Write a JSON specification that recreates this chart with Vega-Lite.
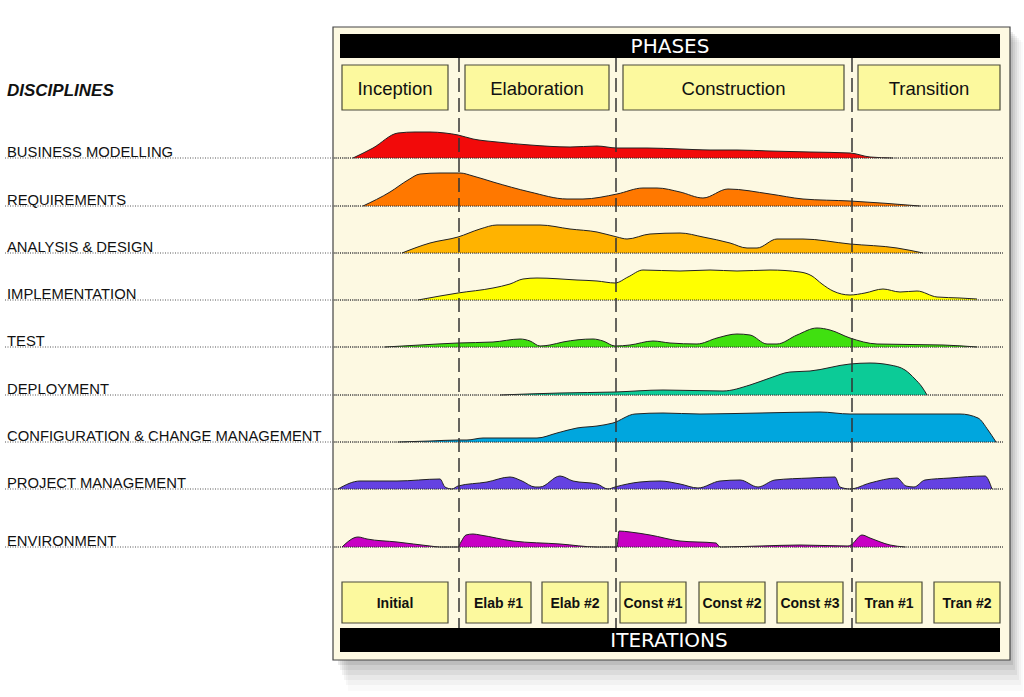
{
  "$schema": "https://vega.github.io/schema/vega-lite/v6.json",
  "width": 1024,
  "height": 697,
  "padding": 0,
  "autosize": {"type": "fit", "contains": "padding"},
  "background": "#ffffff",
  "config": {"view": {"stroke": null}, "axis": {"disable": true}, "text": {"font": "Liberation Sans"}},
  "data": {"values": [{}]},
  "datasets": {
    "disc": [
      {"k": "BM", "label": "BUSINESS MODELLING", "base": 158},
      {"k": "RQ", "label": "REQUIREMENTS", "base": 206},
      {"k": "AD", "label": "ANALYSIS & DESIGN", "base": 253},
      {"k": "IM", "label": "IMPLEMENTATION", "base": 300},
      {"k": "TE", "label": "TEST", "base": 347},
      {"k": "DP", "label": "DEPLOYMENT", "base": 395},
      {"k": "CM", "label": "CONFIGURATION & CHANGE MANAGEMENT", "base": 442},
      {"k": "PM", "label": "PROJECT MANAGEMENT", "base": 489},
      {"k": "EN", "label": "ENVIRONMENT", "base": 547}
    ],
    "phases": [
      {"name": "Inception", "start": 342, "end": 448},
      {"name": "Elaboration", "start": 465, "end": 609},
      {"name": "Construction", "start": 623, "end": 844},
      {"name": "Transition", "start": 858, "end": 1000}
    ],
    "iters": [
      {"name": "Initial", "start": 342, "end": 448},
      {"name": "Elab #1", "start": 466, "end": 531},
      {"name": "Elab #2", "start": 542, "end": 608},
      {"name": "Const #1", "start": 620, "end": 686},
      {"name": "Const #2", "start": 699, "end": 765},
      {"name": "Const #3", "start": 777, "end": 843},
      {"name": "Tran #1", "start": 856, "end": 922},
      {"name": "Tran #2", "start": 934, "end": 1000}
    ],
    "divs": [{"x": 459}, {"x": 616}, {"x": 852}],
    "humps": [
      {"k":"BM","x":353,"y":158},{"k":"BM","x":373,"y":148},{"k":"BM","x":398,"y":133},{"k":"BM","x":415,"y":132},{"k":"BM","x":430,"y":132},{"k":"BM","x":445,"y":133},{"k":"BM","x":458,"y":135},{"k":"BM","x":473,"y":139},{"k":"BM","x":497,"y":142},{"k":"BM","x":530,"y":145},{"k":"BM","x":570,"y":147},{"k":"BM","x":597,"y":146},{"k":"BM","x":617,"y":148},{"k":"BM","x":647,"y":148},{"k":"BM","x":680,"y":149},{"k":"BM","x":710,"y":150},{"k":"BM","x":737,"y":150},{"k":"BM","x":770,"y":151},{"k":"BM","x":810,"y":152},{"k":"BM","x":850,"y":153},{"k":"BM","x":870,"y":157},{"k":"BM","x":893,"y":158},
      {"k":"RQ","x":363,"y":206},{"k":"RQ","x":390,"y":192},{"k":"RQ","x":408,"y":180},{"k":"RQ","x":420,"y":174},{"k":"RQ","x":440,"y":173},{"k":"RQ","x":460,"y":173},{"k":"RQ","x":473,"y":176},{"k":"RQ","x":493,"y":182},{"k":"RQ","x":530,"y":192},{"k":"RQ","x":567,"y":199},{"k":"RQ","x":583,"y":199},{"k":"RQ","x":617,"y":194},{"k":"RQ","x":643,"y":188},{"k":"RQ","x":657,"y":188},{"k":"RQ","x":680,"y":192},{"k":"RQ","x":703,"y":198},{"k":"RQ","x":728,"y":189},{"k":"RQ","x":770,"y":194},{"k":"RQ","x":803,"y":199},{"k":"RQ","x":850,"y":201},{"k":"RQ","x":920,"y":206},
      {"k":"AD","x":402,"y":253},{"k":"AD","x":430,"y":243},{"k":"AD","x":458,"y":237},{"k":"AD","x":480,"y":229},{"k":"AD","x":497,"y":225},{"k":"AD","x":540,"y":225},{"k":"AD","x":570,"y":229},{"k":"AD","x":597,"y":232},{"k":"AD","x":617,"y":237},{"k":"AD","x":627,"y":239},{"k":"AD","x":650,"y":234},{"k":"AD","x":680,"y":233},{"k":"AD","x":703,"y":237},{"k":"AD","x":730,"y":243},{"k":"AD","x":747,"y":248},{"k":"AD","x":757,"y":248},{"k":"AD","x":777,"y":239},{"k":"AD","x":803,"y":239},{"k":"AD","x":850,"y":244},{"k":"AD","x":897,"y":248},{"k":"AD","x":923,"y":253},
      {"k":"IM","x":418,"y":300},{"k":"IM","x":440,"y":296},{"k":"IM","x":458,"y":293},{"k":"IM","x":493,"y":288},{"k":"IM","x":510,"y":284},{"k":"IM","x":523,"y":279},{"k":"IM","x":537,"y":278},{"k":"IM","x":577,"y":280},{"k":"IM","x":597,"y":281},{"k":"IM","x":615,"y":283},{"k":"IM","x":628,"y":277},{"k":"IM","x":643,"y":270},{"k":"IM","x":680,"y":271},{"k":"IM","x":710,"y":270},{"k":"IM","x":737,"y":271},{"k":"IM","x":770,"y":270},{"k":"IM","x":800,"y":272},{"k":"IM","x":812,"y":276},{"k":"IM","x":822,"y":284},{"k":"IM","x":833,"y":291},{"k":"IM","x":850,"y":295},{"k":"IM","x":865,"y":293},{"k":"IM","x":883,"y":289},{"k":"IM","x":900,"y":292},{"k":"IM","x":917,"y":291},{"k":"IM","x":937,"y":297},{"k":"IM","x":960,"y":298},{"k":"IM","x":977,"y":299},
      {"k":"TE","x":385,"y":347},{"k":"TE","x":420,"y":345},{"k":"TE","x":458,"y":343},{"k":"TE","x":493,"y":342},{"k":"TE","x":520,"y":339},{"k":"TE","x":530,"y":341},{"k":"TE","x":540,"y":346},{"k":"TE","x":550,"y":345},{"k":"TE","x":563,"y":342},{"k":"TE","x":593,"y":339},{"k":"TE","x":603,"y":341},{"k":"TE","x":615,"y":346},{"k":"TE","x":630,"y":345},{"k":"TE","x":653,"y":341},{"k":"TE","x":670,"y":343},{"k":"TE","x":697,"y":344},{"k":"TE","x":717,"y":338},{"k":"TE","x":737,"y":334},{"k":"TE","x":750,"y":335},{"k":"TE","x":767,"y":344},{"k":"TE","x":777,"y":344},{"k":"TE","x":797,"y":335},{"k":"TE","x":817,"y":328},{"k":"TE","x":830,"y":330},{"k":"TE","x":850,"y":338},{"k":"TE","x":877,"y":344},{"k":"TE","x":943,"y":345},{"k":"TE","x":977,"y":347},
      {"k":"DP","x":500,"y":395},{"k":"DP","x":560,"y":393},{"k":"DP","x":615,"y":392},{"k":"DP","x":663,"y":390},{"k":"DP","x":723,"y":391},{"k":"DP","x":750,"y":385},{"k":"DP","x":770,"y":378},{"k":"DP","x":790,"y":372},{"k":"DP","x":810,"y":371},{"k":"DP","x":850,"y":364},{"k":"DP","x":870,"y":363},{"k":"DP","x":890,"y":365},{"k":"DP","x":905,"y":370},{"k":"DP","x":915,"y":379},{"k":"DP","x":922,"y":387},{"k":"DP","x":927,"y":395},
      {"k":"CM","x":398,"y":442},{"k":"CM","x":430,"y":441},{"k":"CM","x":458,"y":440},{"k":"CM","x":467,"y":440},{"k":"CM","x":483,"y":438},{"k":"CM","x":537,"y":438},{"k":"CM","x":557,"y":433},{"k":"CM","x":577,"y":428},{"k":"CM","x":597,"y":426},{"k":"CM","x":613,"y":423},{"k":"CM","x":635,"y":414},{"k":"CM","x":663,"y":413},{"k":"CM","x":700,"y":414},{"k":"CM","x":760,"y":413},{"k":"CM","x":820,"y":412},{"k":"CM","x":850,"y":414},{"k":"CM","x":900,"y":414},{"k":"CM","x":960,"y":414},{"k":"CM","x":978,"y":418},{"k":"CM","x":988,"y":430},{"k":"CM","x":996,"y":442},
      {"k":"PM","x":338,"y":489},{"k":"PM","x":360,"y":481},{"k":"PM","x":397,"y":481},{"k":"PM","x":440,"y":479},{"k":"PM","x":445,"y":487},{"k":"PM","x":452,"y":489},{"k":"PM","x":458,"y":486},{"k":"PM","x":487,"y":482},{"k":"PM","x":510,"y":477},{"k":"PM","x":522,"y":481},{"k":"PM","x":535,"y":487},{"k":"PM","x":540,"y":487},{"k":"PM","x":560,"y":476},{"k":"PM","x":573,"y":481},{"k":"PM","x":597,"y":484},{"k":"PM","x":608,"y":489},{"k":"PM","x":615,"y":487},{"k":"PM","x":640,"y":482},{"k":"PM","x":660,"y":481},{"k":"PM","x":680,"y":484},{"k":"PM","x":698,"y":488},{"k":"PM","x":720,"y":481},{"k":"PM","x":740,"y":480},{"k":"PM","x":758,"y":487},{"k":"PM","x":775,"y":480},{"k":"PM","x":810,"y":478},{"k":"PM","x":835,"y":477},{"k":"PM","x":840,"y":487},{"k":"PM","x":850,"y":489},{"k":"PM","x":870,"y":483},{"k":"PM","x":897,"y":478},{"k":"PM","x":906,"y":486},{"k":"PM","x":914,"y":487},{"k":"PM","x":925,"y":480},{"k":"PM","x":950,"y":478},{"k":"PM","x":985,"y":476},{"k":"PM","x":992,"y":489},
      {"k":"EN","x":342,"y":547},{"k":"EN","x":358,"y":537},{"k":"EN","x":367,"y":539},{"k":"EN","x":397,"y":542},{"k":"EN","x":430,"y":546},{"k":"EN","x":440,"y":547},{"k":"EN","x":458,"y":547},{"k":"EN","x":461,"y":542},{"k":"EN","x":466,"y":535},{"k":"EN","x":473,"y":534},{"k":"EN","x":480,"y":535},{"k":"EN","x":513,"y":541},{"k":"EN","x":560,"y":544},{"k":"EN","x":597,"y":547},{"k":"EN","x":617,"y":547},{"k":"EN","x":619,"y":531},{"k":"EN","x":630,"y":532},{"k":"EN","x":650,"y":535},{"k":"EN","x":680,"y":541},{"k":"EN","x":716,"y":543},{"k":"EN","x":720,"y":547},{"k":"EN","x":760,"y":546},{"k":"EN","x":800,"y":545},{"k":"EN","x":848,"y":546},{"k":"EN","x":851,"y":545},{"k":"EN","x":862,"y":535},{"k":"EN","x":870,"y":538},{"k":"EN","x":890,"y":545},{"k":"EN","x":905,"y":547}
    ]
  },
  "layer": [
    {"mark": {"type": "rect", "fill": "#000000", "opacity": 0.08},
     "encoding": {"x": {"datum": 338, "type": "quantitative", "scale": {"domain": [0, 1024], "nice": false, "zero": false}}, "x2": {"datum": 1013},
                  "y": {"datum": 32, "type": "quantitative", "scale": {"domain": [0, 697], "nice": false, "zero": false, "reverse": true}}, "y2": {"datum": 665}}},
    {"mark": {"type": "rect", "fill": "#000000", "opacity": 0.06},
     "encoding": {"x": {"datum": 340}, "x2": {"datum": 1015}, "y": {"datum": 34}, "y2": {"datum": 670}}},
    {"mark": {"type": "rect", "fill": "#000000", "opacity": 0.05},
     "encoding": {"x": {"datum": 342}, "x2": {"datum": 1017}, "y": {"datum": 36}, "y2": {"datum": 675}}},
    {"mark": {"type": "rect", "fill": "#000000", "opacity": 0.04},
     "encoding": {"x": {"datum": 344}, "x2": {"datum": 1019}, "y": {"datum": 38}, "y2": {"datum": 680}}},
    {"mark": {"type": "rect", "fill": "#000000", "opacity": 0.03},
     "encoding": {"x": {"datum": 346}, "x2": {"datum": 1021}, "y": {"datum": 40}, "y2": {"datum": 685}}},
    {"mark": {"type": "rect", "fill": "#000000", "opacity": 0.02},
     "encoding": {"x": {"datum": 348}, "x2": {"datum": 1023}, "y": {"datum": 42}, "y2": {"datum": 691}}},
    {"mark": {"type": "rect", "fill": "#fdf9e2", "stroke": "#444444", "strokeWidth": 1.2},
     "encoding": {"x": {"datum": 333}, "x2": {"datum": 1010}, "y": {"datum": 27}, "y2": {"datum": 660}}},
    {"mark": {"type": "rect", "fill": "#000000"},
     "encoding": {"x": {"datum": 340}, "x2": {"datum": 1000}, "y": {"datum": 34}, "y2": {"datum": 58}}},
    {"mark": {"type": "rect", "fill": "#000000"},
     "encoding": {"x": {"datum": 340}, "x2": {"datum": 1000}, "y": {"datum": 628}, "y2": {"datum": 652}}},
    {"mark": {"type": "text", "text": "PHASES", "color": "#ffffff", "fontSize": 20, "baseline": "middle", "align": "center", "font": "DejaVu Sans"},
     "encoding": {"x": {"datum": 670}, "y": {"datum": 47}}},
    {"mark": {"type": "text", "text": "ITERATIONS", "color": "#ffffff", "fontSize": 20, "baseline": "middle", "align": "center", "font": "DejaVu Sans"},
     "encoding": {"x": {"datum": 669}, "y": {"datum": 641}}},
    {"data": {"name": "phases"},
     "mark": {"type": "rect", "fill": "#fcf99e", "stroke": "#4a4a3a", "strokeWidth": 1.2},
     "encoding": {"x": {"field": "start", "type": "quantitative"}, "x2": {"field": "end"}, "y": {"datum": 65}, "y2": {"datum": 110}}},
    {"data": {"name": "phases"},
     "mark": {"type": "text", "fontSize": 18.5, "color": "#111111", "baseline": "middle", "align": "center"},
     "encoding": {"x": {"field": "mid", "type": "quantitative"}, "text": {"field": "name"}, "y": {"datum": 89}},
     "transform": [{"fold": ["start", "end"], "as": ["edge", "pos"]}, {"aggregate": [{"op": "mean", "field": "pos", "as": "mid"}], "groupby": ["name"]}]},
    {"data": {"name": "iters"},
     "mark": {"type": "rect", "fill": "#fcf99e", "stroke": "#4a4a3a", "strokeWidth": 1.2},
     "encoding": {"x": {"field": "start", "type": "quantitative"}, "x2": {"field": "end"}, "y": {"datum": 582}, "y2": {"datum": 623}}},
    {"data": {"name": "iters"},
     "mark": {"type": "text", "fontSize": 14, "fontWeight": "bold", "color": "#111111", "baseline": "middle", "align": "center"},
     "encoding": {"x": {"field": "mid", "type": "quantitative"}, "text": {"field": "name"}, "y": {"datum": 604}},
     "transform": [{"fold": ["start", "end"], "as": ["edge", "pos"]}, {"aggregate": [{"op": "mean", "field": "pos", "as": "mid"}], "groupby": ["name"]}]},
    {"data": {"name": "disc"},
     "mark": {"type": "rule", "color": "#555555", "strokeWidth": 1, "strokeDash": [1, 1.5]},
     "encoding": {"x": {"datum": 5}, "x2": {"datum": 1003}, "y": {"field": "base", "type": "quantitative"}}},
    {"data": {"name": "humps"},
     "transform": [{"lookup": "k", "from": {"data": {"name": "disc"}, "key": "k", "fields": ["base"]}}],
     "mark": {"type": "area", "opacity": 1, "interpolate": "monotone"},
     "encoding": {
       "x": {"field": "x", "type": "quantitative"},
       "y": {"field": "y", "type": "quantitative", "stack": null},
       "y2": {"field": "base"},
       "color": {"field": "k", "type": "nominal", "legend": null,
                 "scale": {"domain": ["BM", "RQ", "AD", "IM", "TE", "DP", "CM", "PM", "EN"],
                           "range": ["#f20a0a", "#ff7800", "#ffb300", "#ffff00", "#40e010", "#0ccb97", "#00a6de", "#6442e2", "#c800c4"]}}
     }},
    {"data": {"name": "humps"},
     "mark": {"type": "line", "color": "#222222", "strokeWidth": 1, "interpolate": "monotone"},
     "encoding": {"x": {"field": "x", "type": "quantitative"}, "y": {"field": "y", "type": "quantitative"}, "detail": {"field": "k"}}},
    {"data": {"name": "disc"},
     "mark": {"type": "rule", "color": "#333333", "strokeWidth": 1, "strokeDash": [1, 1]},
     "encoding": {"x": {"datum": 334}, "x2": {"datum": 1003}, "y": {"field": "base", "type": "quantitative"}}},
    {"data": {"name": "divs"},
     "mark": {"type": "rule", "color": "#333333", "strokeWidth": 1.5, "strokeDash": [14, 6]},
     "encoding": {"x": {"field": "x", "type": "quantitative"}, "y": {"datum": 58}, "y2": {"datum": 628}}},
    {"data": {"name": "disc"},
     "mark": {"type": "text", "fontSize": 14.8, "color": "#111111", "align": "left", "baseline": "alphabetic", "dy": -1},
     "encoding": {"x": {"datum": 7}, "y": {"field": "base", "type": "quantitative"}, "text": {"field": "label"}}},
    {"mark": {"type": "text", "text": "DISCIPLINES", "fontSize": 17, "fontWeight": "bold", "fontStyle": "italic", "color": "#111111", "align": "left", "baseline": "middle"},
     "encoding": {"x": {"datum": 7}, "y": {"datum": 91}}}
  ]
}
